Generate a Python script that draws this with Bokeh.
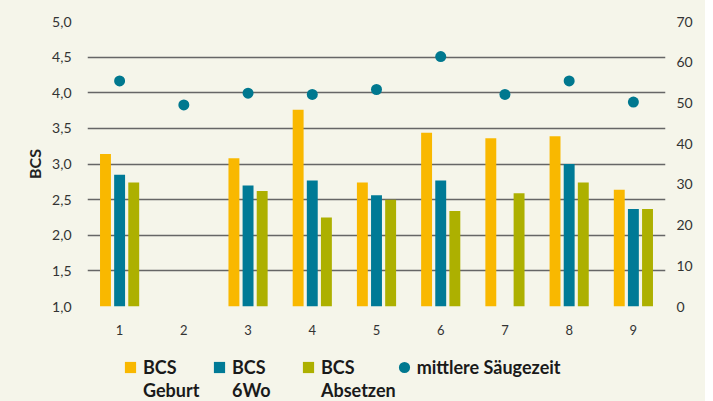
from bokeh.plotting import figure
from bokeh.layouts import column
from bokeh.models import Range1d, LinearAxis, Legend, LegendItem, FixedTicker, ColumnDataSource
from bokeh.embed import file_html
from bokeh.resources import INLINE

# ---- data ----
categories = [1, 2, 3, 4, 5, 6, 7, 8, 9]
bcs_geburt = [3.14, None, 3.08, 3.76, 2.74, 3.44, 3.36, 3.39, 2.64]
bcs_6wo = [2.85, None, 2.70, 2.77, 2.56, 2.77, None, 3.00, 2.37]
bcs_absetzen = [2.74, None, 2.62, 2.25, 2.50, 2.34, 2.59, 2.74, 2.37]
saeugezeit = [55.4, 49.5, 52.4, 52.1, 53.3, 61.4, 52.1, 55.4, 50.2]
bcs_ticks = [1.0, 1.5, 2.0, 2.5, 3.0, 3.5, 4.0, 4.5, 5.0]
day_ticks = [0, 10, 20, 30, 40, 50, 60, 70]
legend_line1 = ["BCS", "BCS", "BCS", "mittlere Säugezeit"]
legend_line2 = ["Geburt", "6Wo", "Absetzen"]

# ---- style ----
BG = "#f5f5ea"
COLORS = ["#f9b800", "#007a96", "#adb000"]
DOT = "#00788f"
FONT = "Lato"
OFFSETS = [-0.22, 0.0, 0.22]
BAR_W = 0.17
BORDER_L, BORDER_R = 87, 40

p = figure(width=705, height=337, output_backend="svg", toolbar_location=None,
           x_range=Range1d(0.5, 9.5), y_range=Range1d(1.0, 5.0),
           min_border_left=BORDER_L, min_border_right=BORDER_R, min_border_top=21, min_border_bottom=29)
p.background_fill_color = BG
p.border_fill_color = BG
p.outline_line_color = None
p.extra_y_ranges = {"days": Range1d(0, 70)}

series = [bcs_geburt, bcs_6wo, bcs_absetzen]
for vals, col, off in zip(series, COLORS, OFFSETS):
    xs = [c + off for c, v in zip(categories, vals) if v is not None]
    ts = [v for v in vals if v is not None]
    src = ColumnDataSource(dict(x=xs, top=ts))
    p.vbar(x="x", top="top", bottom=1.0, width=BAR_W, source=src,
           fill_color=col, line_color=None)

dsrc = ColumnDataSource(dict(x=categories, y=saeugezeit))
p.scatter(x="x", y="y", source=dsrc, size=11, marker="circle",
          fill_color=DOT, line_color=None, y_range_name="days")

# grid
p.xgrid.grid_line_color = None
p.ygrid.ticker = FixedTicker(ticks=bcs_ticks)
p.ygrid.grid_line_color = "#666666"
p.ygrid.grid_line_width = 1.3

# left axis
ya = p.yaxis[0]
ya.ticker = FixedTicker(ticks=bcs_ticks)
ya.major_label_overrides = {t: f"{t:.1f}".replace(".", ",") for t in bcs_ticks}
ya.axis_line_color = None
ya.major_tick_line_color = None
ya.minor_tick_line_color = None
ya.major_label_standoff = 10
ya.major_label_text_font = FONT
ya.major_label_text_font_size = "14px"
ya.major_label_text_color = "#333333"
ya.axis_label = "BCS"
ya.axis_label_text_font = FONT
ya.axis_label_text_font_size = "16px"
ya.axis_label_text_font_style = "bold"
ya.axis_label_text_color = "#222222"
ya.axis_label_standoff = 5

# right axis
ra = LinearAxis(y_range_name="days", ticker=FixedTicker(ticks=day_ticks))
ra.axis_line_color = None
ra.major_tick_line_color = None
ra.minor_tick_line_color = None
ra.major_label_standoff = 5
ra.major_label_text_font = FONT
ra.major_label_text_font_size = "14px"
ra.major_label_text_color = "#333333"
p.add_layout(ra, "right")

# x axis
xa = p.xaxis[0]
xa.ticker = FixedTicker(ticks=categories)
xa.axis_line_color = None
xa.major_tick_line_color = None
xa.minor_tick_line_color = None
xa.major_label_standoff = 12
xa.major_label_text_font = FONT
xa.major_label_text_font_size = "13px"
xa.major_label_text_color = "#333333"

# ---- legend strip (its sample renderers lie outside its visible range) ----
lg = figure(width=705, height=64, output_backend="svg", toolbar_location=None,
            x_axis_type=None, y_axis_type=None, x_range=Range1d(100, 101), y_range=Range1d(100, 101),
            min_border_left=BORDER_L, min_border_right=BORDER_R, min_border_top=0, min_border_bottom=0)
lg.background_fill_color = BG
lg.border_fill_color = BG
lg.outline_line_color = None
lg.xgrid.grid_line_color = None
lg.ygrid.grid_line_color = None
lrs = []
for vals, col in zip(series, COLORS):
    lrs.append(lg.vbar(x=categories[:1], top=vals[:1], width=BAR_W, fill_color=col, line_color=None))
lrs.append(lg.ellipse(x=categories[:1], y=saeugezeit[:1], width=15, height=15,
                      width_units="screen", height_units="screen",
                      fill_color=DOT, line_color=None))
blank = lg.vbar(x=categories[:1], top=bcs_geburt[:1], width=BAR_W, fill_alpha=0, line_alpha=0)

items = [LegendItem(label=lab, renderers=[r]) for lab, r in zip(legend_line1, lrs)]
items += [LegendItem(label=lab, renderers=[blank]) for lab in legend_line2]
legend = Legend(items=items, orientation="horizontal", ncols=4, location=(123 - BORDER_L, 0),
                background_fill_alpha=0, border_line_color=None,
                label_text_font=FONT, label_text_font_style="bold",
                label_text_font_size="18px", label_text_color="#1a1a1a",
                label_width=68, glyph_width=14, glyph_height=14, label_standoff=6,
                spacing=1, padding=0, margin=0)
lg.add_layout(legend, "center")

layout = column(p, lg, spacing=0, styles={"background-color": BG})
open("out.html", "w").write(file_html(layout, INLINE))
